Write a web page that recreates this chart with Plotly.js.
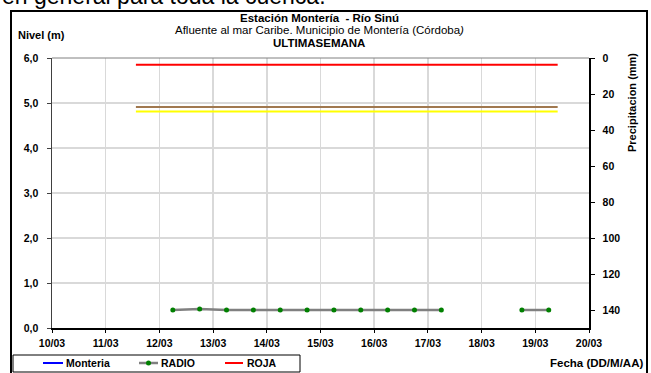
<!DOCTYPE html>
<html>
<head>
<meta charset="utf-8">
<script src="https://cdn.plot.ly/plotly-3.0.1.min.js"></script>
<style>html,body{margin:0;padding:0;background:#fff;}#chart{width:651px;height:373px;}</style>
</head>
<body>
<div id="chart"></div>
<script>
// ---- data ----
const radioTimes = ['2013-03-12 06:00','2013-03-12 18:00','2013-03-13 06:00','2013-03-13 18:00','2013-03-14 06:00','2013-03-14 18:00','2013-03-15 06:00','2013-03-15 18:00','2013-03-16 06:00','2013-03-16 18:00','2013-03-17 06:00','2013-03-17 18:00','2013-03-18 06:00','2013-03-18 18:00','2013-03-19 06:00'];
const radioLevels = [0.40,0.42,0.40,0.40,0.40,0.40,0.40,0.40,0.40,0.40,0.40,null,null,0.40,0.40];
const thresholdTimes = ['2013-03-11 13:30','2013-03-19 10:00'];
const rojaLevel = [5.85,5.85];
const naranjaLevel = [4.91,4.91];
const amarillaLevel = [4.81,4.81];
const monteriaTimes = [];
const monteriaLevels = [];
const precipTimes = [];
const precipValues = [];
const levelTicks = [0,1,2,3,4,5,6];
const precipTicks = [0,20,40,60,80,100,120,140];
const xRange = ['2013-03-10','2013-03-20'];

// ---- layout helpers ----
const L=52, R=589, T=58, B=328;
const px = x => (x-L)/(R-L);
const py = y => (B-y)/(B-T);
const FONT = 'Liberation Sans, Arial, sans-serif';

const traces = [
  {x: precipTimes, y: precipValues, type:'bar', yaxis:'y2', showlegend:false, marker:{color:'#3366cc'}},
  {x: monteriaTimes, y: monteriaLevels, type:'scatter', mode:'lines', name:'Monteria', line:{color:'#0000ff', width:2}, showlegend:false},
  {x: thresholdTimes, y: naranjaLevel, type:'scatter', mode:'lines', line:{color:'#a0784f', width:2}, showlegend:false, hoverinfo:'skip'},
  {x: thresholdTimes, y: amarillaLevel, type:'scatter', mode:'lines', line:{color:'#ffff00', width:2}, showlegend:false, hoverinfo:'skip'},
  {x: thresholdTimes, y: rojaLevel, type:'scatter', mode:'lines', name:'ROJA', line:{color:'#ff0000', width:2}, showlegend:false},
  {x: radioTimes, y: radioLevels, type:'scatter', mode:'lines+markers', name:'RADIO', connectgaps:false,
   line:{color:'#808080', width:2.5}, marker:{color:'#008000', size:5}, showlegend:false}
];

const ann = (text, x, y, opts={}) => Object.assign({
  text, xref:'paper', yref:'paper', x:px(x), y:py(y), showarrow:false,
  xanchor:'center', yanchor:'middle', font:{family:FONT, size:11, color:'#000'}
}, opts);
const f = s => ({family:FONT, size:s, color:'#000'});

const annotations = [
  ann('en general para toda la cuenca.', 0, -4, {xanchor:'left', font:f(23)}),
  ann('<b>Estación Montería  - Río Sinú</b>', 319, 18, {font:f(11.5)}),
  ann('Afluente al mar Caribe. Municipio de Montería (Córdoba<i>)</i>', 319, 30.5, {font:f(11.5)}),
  ann('<b>ULTIMASEMANA</b>', 319, 43, {font:f(11.5)}),
  ann('<b>Nivel (m)</b>', 16, 35, {xanchor:'left', font:f(11)}),
  ann('<b>Precipitacion (mm)</b>', 632, 103, {textangle:-90, font:f(11)}),
  ann('<b>Fecha (DD/M/AA)</b>', 645, 363, {xanchor:'right', font:f(11.5)}),
  ann('<b>Monteria</b>', 64, 363, {xanchor:'left', font:f(10.5)}),
  ann('<b>RADIO</b>', 159, 363, {xanchor:'left', font:f(10.5)}),
  ann('<b>ROJA</b>', 245, 363, {xanchor:'left', font:f(10.5)})
];

const line = (x0,y0,x1,y1,color,width) => ({type:'line', xref:'paper', yref:'paper', x0:px(x0), y0:py(y0), x1:px(x1), y1:py(y1), line:{color, width}});
const shapes = [
  {type:'rect', xref:'paper', yref:'paper', x0:px(11), x1:px(647), y0:py(11), y1:py(390), line:{color:'#000', width:2}},
  line(L, T, R, T, '#808080', 1),
  {type:'rect', xref:'paper', yref:'paper', x0:px(13), x1:px(300), y0:py(355), y1:py(372), line:{color:'#000', width:1}},
  line(43, 363, 63, 363, '#0000ff', 2),
  line(139, 363, 158, 363, '#808080', 2.5),
  {type:'circle', xref:'paper', yref:'paper', x0:px(146), x1:px(151), y0:py(360.5), y1:py(365.5), fillcolor:'#008000', line:{color:'#008000', width:0}},
  line(225, 363, 243, 363, '#ff0000', 2)
];

const tf = {family:FONT, size:10.5, color:'#000', weight:'bold'};
const layout = {
  width:651, height:373,
  margin:{l:L, r:651-R, t:T, b:373-B, pad:0},
  paper_bgcolor:'#fff', plot_bgcolor:'#fff',
  separators:',.',
  showlegend:false,
  font:{family:FONT, size:10, color:'#000'},
  xaxis:{type:'date', range:xRange, dtick:86400000, tickformat:'%d/%m',
    showline:true, linecolor:'#000', linewidth:1.5, ticks:'outside', ticklen:3, tickcolor:'#000',
    showgrid:true, gridcolor:'#d9d9d9', gridwidth:1.5, zeroline:false,
    tickfont:tf, ticklabelstandoff:2},
  yaxis:{range:[0,6], tickvals:levelTicks, tickformat:'.1f',
    showline:true, linecolor:'#404040', linewidth:1.5, ticks:'outside', ticklen:4, tickcolor:'#404040',
    showgrid:true, gridcolor:'#d9d9d9', gridwidth:1.5, zeroline:false,
    tickfont:tf, ticklabelstandoff:6},
  yaxis2:{overlaying:'y', side:'right', range:[150,0], tickvals:precipTicks,
    showline:true, linecolor:'#000', linewidth:1.5, ticks:'outside', ticklen:4, tickcolor:'#000',
    showgrid:false, zeroline:false,
    tickfont:tf, ticklabelstandoff:6},
  yaxis3:{overlaying:'y', side:'right', range:[150,0], tickvals:precipTicks, showticklabels:false,
    showline:false, ticks:'inside', ticklen:4, tickcolor:'#000', showgrid:false, zeroline:false},
  annotations, shapes
};

Plotly.newPlot('chart', traces, layout, {displayModeBar:false, staticPlot:true});
</script>
</body>
</html>
